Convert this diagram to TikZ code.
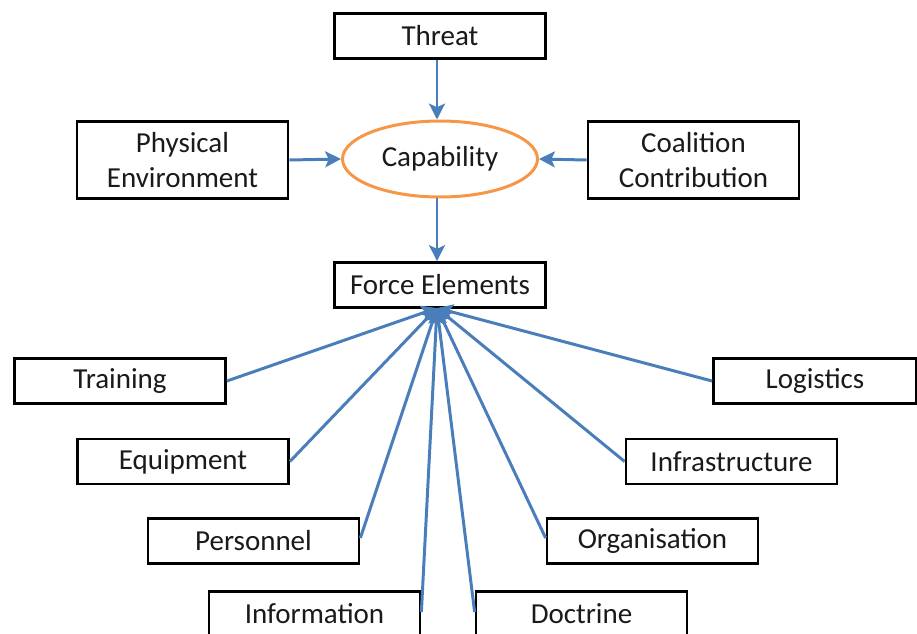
\documentclass[tikz,border=0pt]{standalone}
\usepackage{fontspec}
\setmainfont{Carlito}
\usetikzlibrary{arrows.meta,shapes.geometric}
\definecolor{lineblue}{HTML}{4A7EBB}
\definecolor{ellorange}{HTML}{F79646}
\definecolor{txt}{HTML}{1A1A1A}
\begin{document}
\begin{tikzpicture}[x=0.02cm,y=-0.02cm,
  box/.style={draw=black,line width=1.6pt,fill=white,minimum width=4.22cm,minimum height=0.9cm,inner sep=0pt,font=\fontsize{16.5pt}{19.5pt}\selectfont,text=txt,align=center},
  tallbox/.style={box,minimum height=1.55cm},
  conn/.style={draw=lineblue,line width=1.7pt,-{Stealth[length=9pt,width=9pt,inset=2pt]}},
  spoke/.style={draw=lineblue,line width=1.7pt,-{Stealth[length=9pt,width=9pt,inset=2pt]}}]
\useasboundingbox (0,0) rectangle (917,633);
\begin{scope}
\clip (0,0) rectangle (917,633);
\node[box] (threat) at (440,36) {Threat};
\node[tallbox] (phys) at (182.5,160) {Physical\\Environment};
\node[tallbox] (coal) at (693.5,160) {Coalition\\Contribution};
\node[draw=ellorange,line width=1.7pt,ellipse,minimum width=3.9cm,minimum height=1.52cm,inner sep=0pt,font=\fontsize{16.5pt}{19.5pt}\selectfont,text=txt] (cap) at (440,159) {Capability};
\node[box] (force) at (440,285) {Force Elements};
\node[box] (training) at (120,381) {Training};
\node[box,minimum width=4.06cm] (logistics) at (815,381) {Logistics};
\node[box] (equipment) at (183,461.5) {Equipment};
\node[box] (infra) at (731.5,461.5) {Infrastructure};
\node[box] (personnel) at (253.5,541) {Personnel};
\node[box] (organisation) at (652.5,541) {Organisation};
\node[box] (information) at (314.5,614) {Information};
\node[box] (doctrine) at (581.5,614) {Doctrine};
\end{scope}
\coordinate (hub) at (437,308);
\draw[conn] (threat.south -| hub) -- (cap.north -| hub);
\draw[conn] (phys.east) -- (cap.west);
\draw[conn] (coal.west) -- (cap.east);
\draw[conn] (cap.south -| hub) -- (force.north -| hub);
\draw[spoke] (training.east) -- (hub);
\draw[spoke] (equipment.east) -- (hub);
\draw[spoke] ([yshift=0.06cm]personnel.east) -- (hub);
\draw[spoke] ([yshift=0.04cm]information.east) -- (hub);
\draw[spoke] ([yshift=0.04cm]doctrine.west) -- (hub);
\draw[spoke] ([yshift=0.06cm]organisation.west) -- (hub);
\draw[spoke] (infra.west) -- (hub);
\draw[spoke] (logistics.west) -- (hub);
\end{tikzpicture}
\end{document}
